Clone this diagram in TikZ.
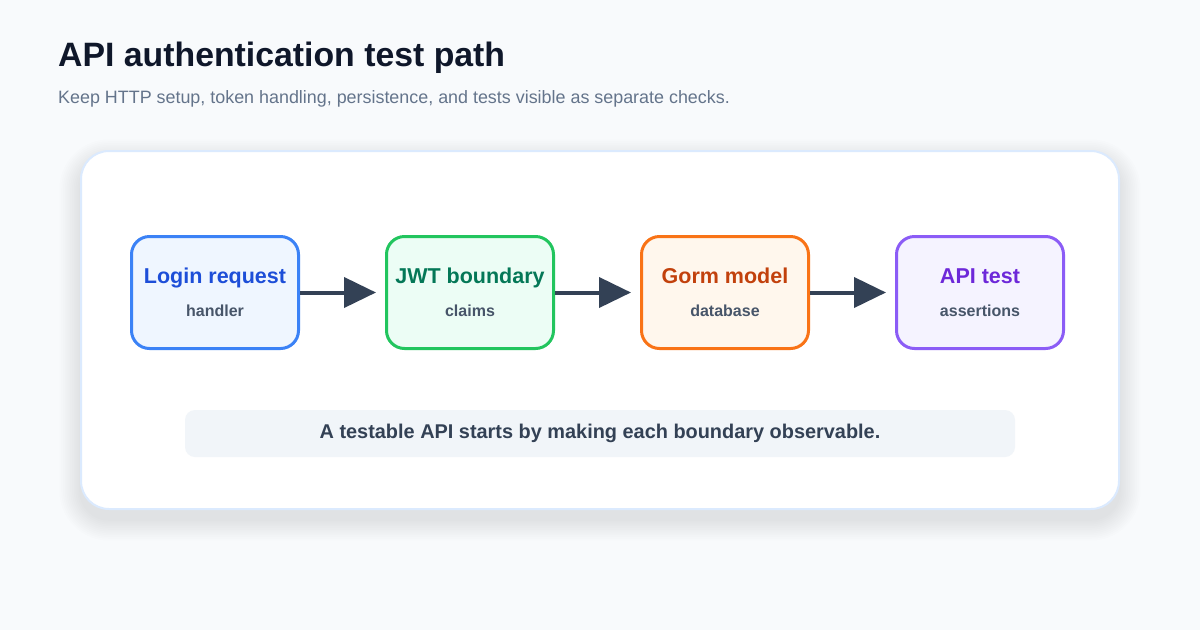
\documentclass[tikz,border=0pt]{standalone}
\usepackage{fontspec}
\setmainfont{Liberation Sans}
\usetikzlibrary{arrows.meta}
\definecolor{bgc}{HTML}{F8FAFC}
\definecolor{titlec}{HTML}{0F172A}
\definecolor{subc}{HTML}{64748B}
\definecolor{cardline}{HTML}{DBEAFE}
\definecolor{arrc}{HTML}{334155}
\definecolor{notefill}{HTML}{F1F5F9}
\definecolor{smallc}{HTML}{475569}
\definecolor{shadc}{HTML}{1E293B}
\definecolor{bD}{HTML}{3B82F6}\definecolor{bF}{HTML}{EFF6FF}\definecolor{bT}{HTML}{1D4ED8}
\definecolor{gD}{HTML}{22C55E}\definecolor{gF}{HTML}{ECFDF5}\definecolor{gT}{HTML}{047857}
\definecolor{oD}{HTML}{F97316}\definecolor{oF}{HTML}{FFF7ED}\definecolor{oT}{HTML}{C2410C}
\definecolor{pD}{HTML}{8B5CF6}\definecolor{pF}{HTML}{F5F3FF}\definecolor{pT}{HTML}{6D28D9}
\tikzset{
  stepbox/.style={draw=#1D, fill=#1F, line width=3pt, rounded corners=18pt,
    minimum width=167pt, minimum height=112pt, inner sep=0pt},
  arr/.style={draw=arrc, line width=4pt, -{Triangle[length=32pt,width=30pt]}, shorten >=9pt},
  ttl/.style={font=\bfseries\fontsize{21.5}{25}\selectfont, anchor=base},
  sub/.style={font=\bfseries\fontsize{16}{19}\selectfont, text=smallc, anchor=base},
}
\begin{document}
\begin{tikzpicture}[x=1pt,y=-1pt]
\useasboundingbox (0,0) rectangle (1200,630);
\fill[bgc] (0,0) rectangle (1200,630);
\node[anchor=base west, inner sep=0pt, text=titlec, font=\bfseries\fontsize{33.8}{40}\selectfont] (title) at (58,66) {API authentication test path};
\node[anchor=base west, inner sep=0pt, text=subc, font=\fontsize{17.9}{21}\selectfont] (subtitle) at (58,103) {Keep HTTP setup, token handling, persistence, and tests visible as separate checks.};
% soft shadow
\foreach \i in {1,...,12}{
  \fill[shadc, opacity=0.008, rounded corners={28pt+1.8pt*\i}]
    (81-1.8*\i,161-1.8*\i) rectangle (1119+1.8*\i,519+1.8*\i);
}
\path[fill=white, draw=cardline, line width=2pt, rounded corners=28pt]
  (81,151) rectangle (1119,509);
\node[stepbox=b] (n1) at (215,292.5) {};
\node[stepbox=g] (n2) at (470,292.5) {};
\node[stepbox=o] (n3) at (725,292.5) {};
\node[stepbox=p] (n4) at (980,292.5) {};
\node[ttl, text=bT] (t1) at (215,283) {Login request};
\node[sub] (s1) at (215,316) {handler};
\node[ttl, text=gT] (t2) at (470,283) {JWT boundary};
\node[sub] (s2) at (470,316) {claims};
\node[ttl, text=oT] (t3) at (725,283) {Gorm model};
\node[sub] (s3) at (725,316) {database};
\node[ttl, text=pT] (t4) at (980,283) {API test};
\node[sub] (s4) at (980,316) {assertions};
\draw[arr] (n1.east) -- (n2.west);
\draw[arr] (n2.east) -- (n3.west);
\draw[arr] (n3.east) -- (n4.west);
\node[fill=notefill, rounded corners=10pt, minimum width=830pt, minimum height=47pt, inner sep=0pt,
  text=arrc, font=\bfseries\fontsize{19.9}{23}\selectfont] (note) at (600,433.5) {A testable API starts by making each boundary observable.};
\end{tikzpicture}
\end{document}
